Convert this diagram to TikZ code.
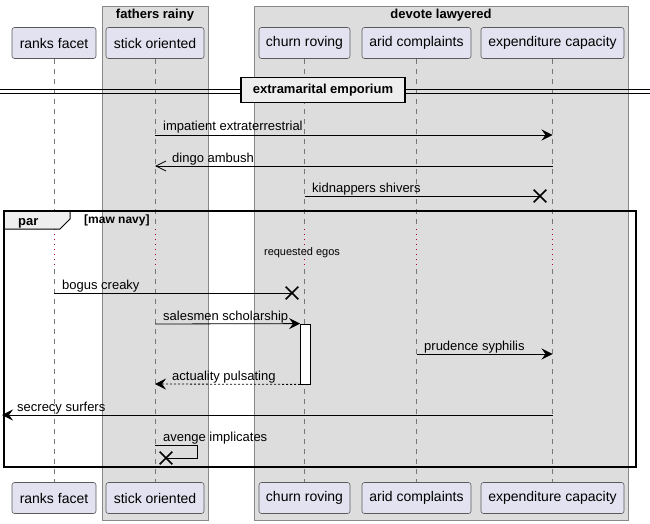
\documentclass[tikz,border=0pt]{standalone}
\usepackage{fontspec}
\setmainfont{Liberation Sans}
\usetikzlibrary{arrows.meta,shapes.misc}
\definecolor{partfill}{HTML}{E2E2F0}
\definecolor{partdraw}{HTML}{5A5A5A}
\definecolor{boxfill}{HTML}{DDDDDD}
\definecolor{boxdraw}{HTML}{888888}
\definecolor{lifecol}{HTML}{777777}
\definecolor{delaycol}{HTML}{A80036}
\definecolor{tabfill}{HTML}{EEEEEE}
\begin{document}
\begin{tikzpicture}[x=1pt,y=-1pt,
 part/.style={draw=partdraw,fill=partfill,rounded corners=2.5pt,line width=0.6pt,minimum height=31pt,inner sep=0pt,font=\fontsize{14}{16}\selectfont},
 grp/.style={draw=boxdraw,fill=boxfill,line width=0.8pt},
 grptitle/.style={font=\bfseries\fontsize{13}{15}\selectfont,inner sep=0pt,anchor=base},
 life/.style={draw=lifecol,line width=0.7pt,dash pattern=on 5pt off 5pt},
 delay/.style={draw=delaycol,line width=1pt,dash pattern=on 1pt off 4pt},
 msg/.style={line width=0.8pt,-{Stealth[length=11pt,width=11pt,inset=4pt]}},
 msgopen/.style={line width=0.8pt,-{Straight Barb[length=10pt,width=10pt]}},
 msgline/.style={line width=0.8pt},
 lbl/.style={font=\fontsize{13}{15}\selectfont,inner sep=0pt,anchor=base west},
 xmark/.style={draw,cross out,line width=1.7pt,minimum size=11pt,inner sep=0pt},
]
\useasboundingbox (0,0) rectangle (650,524);
% groups
\draw[grp] (102,6) rectangle (208,520);
\node[grptitle] (g1) at (155,19) {fathers rainy};
\draw[grp] (254,6) rectangle (628,520);
\node[grptitle] (g2) at (441,19) {devote lawyered};
% participants
\node[part,minimum width=84pt] (t1) at (54,43) {ranks facet};
\node[part,minimum width=98pt] (t2) at (155,43) {stick oriented};
\node[part,minimum width=91pt] (t3) at (304.5,43) {churn roving};
\node[part,minimum width=109pt] (t4) at (416.5,43) {arid complaints};
\node[part,minimum width=143pt] (t5) at (552.5,43) {expenditure capacity};
\node[part,minimum width=84pt] (b1) at (54,498) {ranks facet};
\node[part,minimum width=98pt] (b2) at (155,498) {stick oriented};
\node[part,minimum width=91pt] (b3) at (304.5,498) {churn roving};
\node[part,minimum width=109pt] (b4) at (416.5,498) {arid complaints};
\node[part,minimum width=143pt] (b5) at (552.5,498) {expenditure capacity};
% lifelines
\coordinate (da) at (0,229);
\coordinate (db) at (0,269);
\foreach \i in {1,...,5}{
  \draw[life] (t\i.south) -- (t\i.south |- da);
  \draw[delay] (t\i.south |- da) -- (t\i.south |- db);
  \draw[life] (t\i.south |- db) -- (b\i.north);
}
% divider
\draw[line width=0.8pt] (0,89) -- (650,89);
\draw[line width=0.8pt] (0,93) -- (650,93);
\node[draw,line width=1.5pt,fill=tabfill,minimum width=164pt,minimum height=25pt,inner sep=0pt,font=\bfseries\fontsize{13}{15}\selectfont] (div) at (323,90) {extramarital emporium};
% y levels
\coordinate (y1) at (0,135);
\coordinate (y2) at (0,166);
\coordinate (y3) at (0,196);
\coordinate (y4) at (0,293);
\coordinate (y5) at (0,324);
\coordinate (y6) at (0,354);
\coordinate (y7) at (0,384);
\coordinate (y8) at (0,415);
\coordinate (y9) at (0,445);
% message 1-3
\draw[msg] (t2 |- y1) -- (t5 |- y1);
\node[lbl] (l1) at (163,131) {impatient extraterrestrial};
\draw[msgopen] (t5 |- y2) -- (t2 |- y2);
\node[lbl] (l2) at (172,162) {dingo ambush};
\node[xmark] (x3) at (540,196) {};
\draw[msgline] (t3 |- y3) -- (x3.center);
\node[lbl] (l3) at (312,192) {kidnappers shivers};
% par frame
\draw[line width=1pt,fill=tabfill] (4,211) -- (70,211) -- (70,219) -- (60,229) -- (4,229) -- cycle;
\draw[line width=1.5pt] (4,211) rectangle (636,467);
\node[font=\bfseries\fontsize{13}{15}\selectfont,inner sep=0pt,anchor=base west] (par) at (18,225) {par};
\node[font=\bfseries\fontsize{12}{14}\selectfont,inner sep=0pt,anchor=base west] (cond) at (84,223) {[maw navy]};
\node[font=\fontsize{11}{13}\selectfont,inner sep=0pt,anchor=base] (dl) at (302,255) {requested egos};
% message 4
\node[xmark] (x4) at (292,293) {};
\draw[msgline] (t1 |- y4) -- (x4.center);
\node[lbl] (l4) at (62,289) {bogus creaky};
% activation
\node[draw,fill=white,line width=0.8pt,minimum width=10pt,minimum height=60pt,inner sep=0pt] (act) at (305.5,354) {};
\draw[msg] (t2 |- y5) -- (act.north west);
\node[lbl] (l5) at (163,320) {salesmen scholarship};
\draw[msg] (t4 |- y6) -- (t5 |- y6);
\node[lbl] (l6) at (424,350) {prudence syphilis};
\draw[msg,dash pattern=on 2pt off 2pt] (act.south west) -- (t2 |- y7);
\node[lbl] (l7) at (172,380) {actuality pulsating};
\coordinate (edge) at (2,415);
\draw[msg] (t5 |- y8) -- (edge);
\node[lbl] (l8) at (17,411) {secrecy surfers};
\node[xmark] (x9) at (166,458) {};
\draw[msgline] (t2 |- y9) -- ++(42,0) -- ++(0,13) -- (x9.center);
\node[lbl] (l9) at (163,441) {avenge implicates};
\end{tikzpicture}
\end{document}
